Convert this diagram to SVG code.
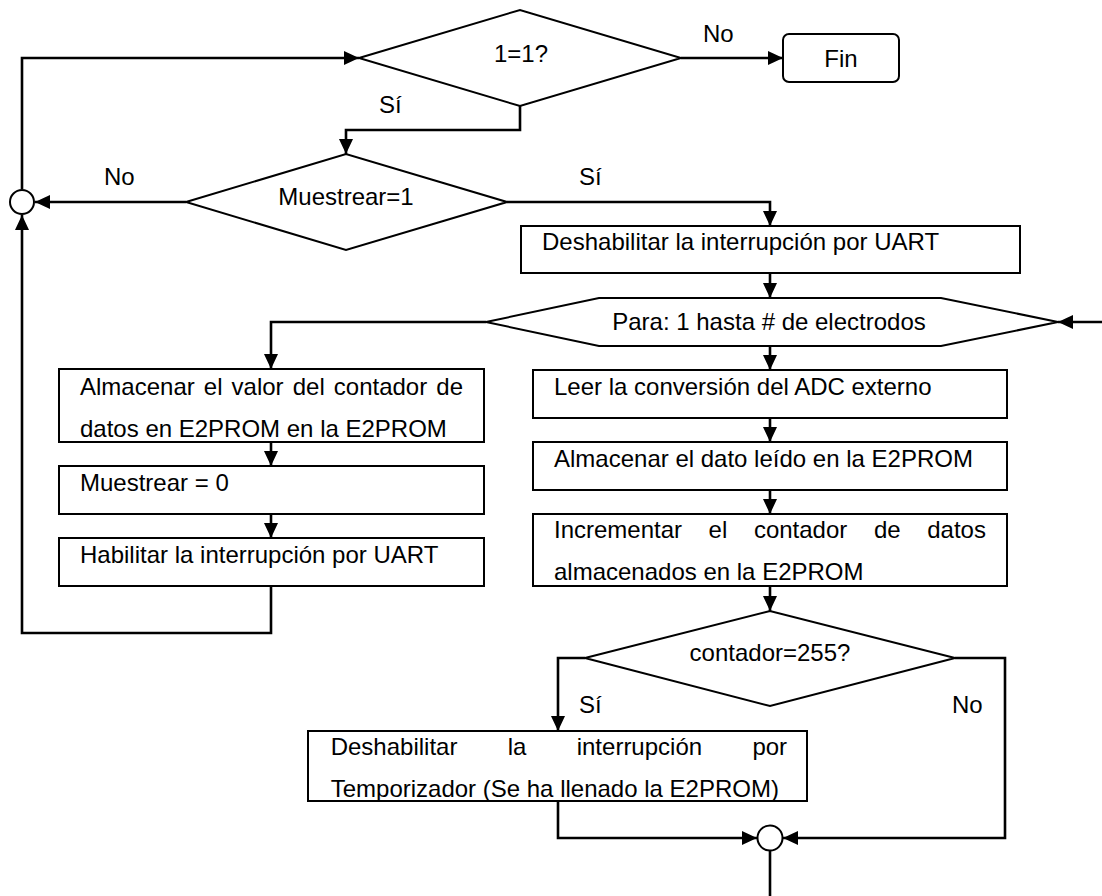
<svg xmlns="http://www.w3.org/2000/svg" width="1102" height="896" viewBox="0 0 1102 896">
<style>
  .shape { fill: #fff; stroke: #000; stroke-width: 2; }
  .conn { fill: none; stroke: #000; stroke-width: 2.6; }
  text { font-family: "Liberation Sans", Arial, sans-serif; font-size: 24px; fill: #000; }
  .mid { text-anchor: middle; }
</style>
<defs>
  <marker id="ah" viewBox="0 0 15 14" refX="15" refY="7" markerWidth="15" markerHeight="14" markerUnits="userSpaceOnUse" orient="auto">
    <path d="M0,0 L15,7 L0,14 z" fill="#000"/>
  </marker>
</defs>
<rect width="1102" height="896" fill="#fff"/>

<g id="connectors">
  <path class="conn" d="M22,189 V58 H359" marker-end="url(#ah)"/>
  <path class="conn" d="M681,58 H783" marker-end="url(#ah)"/>
  <path class="conn" d="M520,106 V130 H346 V154" marker-end="url(#ah)"/>
  <path class="conn" d="M186,202 H35" marker-end="url(#ah)"/>
  <path class="conn" d="M507,202 H770 V226" marker-end="url(#ah)"/>
  <path class="conn" d="M770,273 V298" marker-end="url(#ah)"/>
  <path class="conn" d="M486,322 H271 V369" marker-end="url(#ah)"/>
  <path class="conn" d="M271,442 V466" marker-end="url(#ah)"/>
  <path class="conn" d="M271,514 V538" marker-end="url(#ah)"/>
  <path class="conn" d="M271,586 V633 H22 V215" marker-end="url(#ah)"/>
  <path class="conn" d="M770,346 V370" marker-end="url(#ah)"/>
  <path class="conn" d="M770,418 V442" marker-end="url(#ah)"/>
  <path class="conn" d="M770,490 V514" marker-end="url(#ah)"/>
  <path class="conn" d="M770,586 V611" marker-end="url(#ah)"/>
  <path class="conn" d="M585,658 H558 V731" marker-end="url(#ah)"/>
  <path class="conn" d="M955,658 H1005 V838 H783" marker-end="url(#ah)"/>
  <path class="conn" d="M558,801 V838 H757" marker-end="url(#ah)"/>
  <path class="conn" d="M770,850 V896"/>
  <path class="conn" d="M1102,322 H1058" marker-end="url(#ah)"/>
  <text x="703" y="42">No</text>
  <text x="379" y="113">Sí</text>
  <text x="104" y="185">No</text>
  <text x="579" y="185">Sí</text>
  <text x="579" y="713">Sí</text>
  <text x="952" y="713">No</text>
</g>

<g id="cond_1eq1">
  <polygon class="shape" points="359,58 520,10 681,58 520,106"/>
  <text class="mid" x="521" y="62">1=1?</text>
</g>

<g id="fin">
  <rect class="shape" x="783" y="34" width="116" height="48" rx="6"/>
  <text class="mid" x="841" y="67">Fin</text>
</g>

<g id="join_left">
  <circle class="shape" cx="22" cy="202" r="12"/>
</g>

<g id="cond_muestrear">
  <polygon class="shape" points="186,202 346,154 507,202 346,250"/>
  <text class="mid" x="346" y="205">Muestrear=1</text>
</g>

<g id="deshab_uart">
  <rect class="shape" x="521" y="226" width="499" height="47"/>
  <text x="542" y="250">Deshabilitar la interrupción por UART</text>
</g>

<g id="loop_para">
  <polygon class="shape" points="486,322 599,298 941,298 1058,322 941,346 599,346"/>
  <text class="mid" x="769" y="330">Para: 1 hasta # de electrodos</text>
</g>

<g id="almacenar_contador">
  <rect class="shape" x="59" y="369" width="425" height="73"/>
  <text y="395"><tspan x="80">Almacenar</tspan><tspan x="203.8">el</tspan><tspan x="231.6">valor</tspan><tspan x="292.7">del</tspan><tspan x="333.8">contador</tspan><tspan x="436.3">de</tspan></text>
  <text x="80" y="437">datos en E2PROM en la E2PROM</text>
</g>

<g id="muestrear0">
  <rect class="shape" x="59" y="466" width="425" height="48"/>
  <text x="80" y="491">Muestrear = 0</text>
</g>

<g id="habilitar_uart">
  <rect class="shape" x="59" y="538" width="425" height="48"/>
  <text x="80" y="563">Habilitar la interrupción por UART</text>
</g>

<g id="leer_adc">
  <rect class="shape" x="533" y="370" width="474" height="48"/>
  <text x="554" y="395">Leer la conversión del ADC externo</text>
</g>

<g id="almacenar_dato">
  <rect class="shape" x="533" y="442" width="474" height="48"/>
  <text x="554" y="467">Almacenar el dato leído en la E2PROM</text>
</g>

<g id="incrementar">
  <rect class="shape" x="533" y="514" width="474" height="72"/>
  <text y="538"><tspan x="554">Incrementar</tspan><tspan x="708.6">el</tspan><tspan x="753.9">contador</tspan><tspan x="873.9">de</tspan><tspan x="927.2">datos</tspan></text>
  <text x="554" y="580">almacenados en la E2PROM</text>
</g>

<g id="cond_contador">
  <polygon class="shape" points="585,658 770,611 955,658 770,706"/>
  <text class="mid" x="770" y="661">contador=255?</text>
</g>

<g id="deshab_temp">
  <rect class="shape" x="308" y="731" width="499" height="70"/>
  <text y="755"><tspan x="330.7">Deshabilitar</tspan><tspan x="507.7">la</tspan><tspan x="576.7">interrupción</tspan><tspan x="752.4">por</tspan></text>
  <text x="330.7" y="797">Temporizador (Se ha llenado la E2PROM)</text>
</g>

<g id="join_bottom">
  <circle class="shape" cx="770" cy="838" r="12.5"/>
</g>
</svg>
